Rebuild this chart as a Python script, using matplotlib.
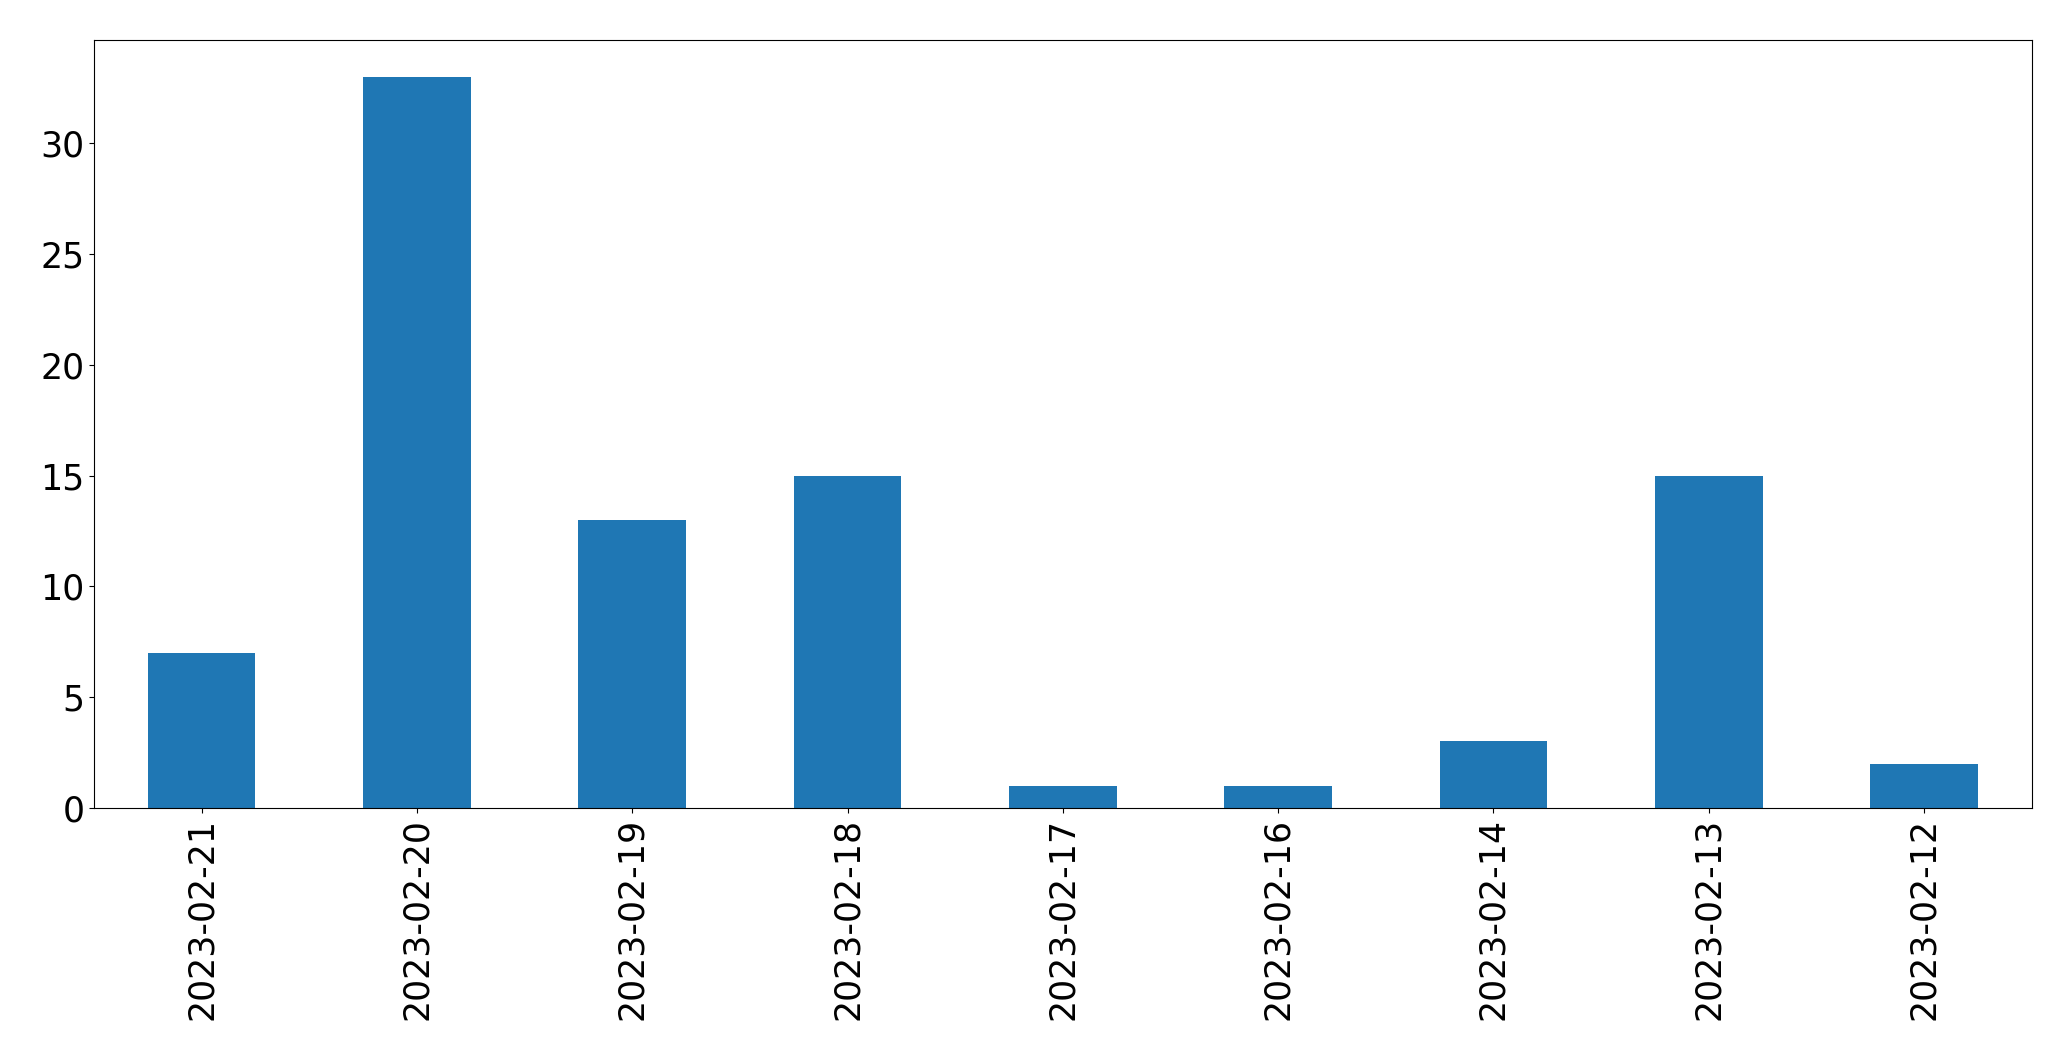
import matplotlib
matplotlib.use("Agg")
import matplotlib.pyplot as plt
import pandas as pd

dates = ["2023-02-21", "2023-02-20", "2023-02-19", "2023-02-18", "2023-02-17",
         "2023-02-16", "2023-02-14", "2023-02-13", "2023-02-12"]
counts = [7, 33, 13, 15, 1, 1, 3, 15, 2]

s = pd.Series(counts, index=dates)

fig = plt.figure(figsize=(20.71, 10.61), dpi=100)
ax = fig.add_axes([0.0454, 0.2385, 0.9356, 0.7235])
s.plot(kind="bar", ax=ax, color="#1f77b4")
ax.tick_params(axis="both", labelsize=25)
ax.set_yticks([0, 5, 10, 15, 20, 25, 30])
fig.savefig("out.png", dpi=100)
